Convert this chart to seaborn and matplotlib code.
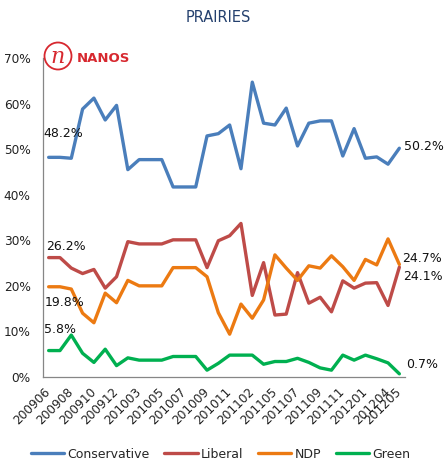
import matplotlib
matplotlib.use("Agg")
import matplotlib.pyplot as plt
from matplotlib.patches import Ellipse
from matplotlib.lines import Line2D
import seaborn as sns
import pandas as pd
import numpy as np

dates = ['200906','200907','200908','200909','200910','200911','200912','201001',
         '201003','201004','201005','201006','201007','201008','201009','201010',
         '201011','201012','201102','201103','201105','201106','201107','201108',
         '201109','201110','201111','201112','201201','201203','201204','201205']
conservative = [48.2,48.2,48.0,58.8,61.2,56.4,59.6,45.5,47.7,47.7,47.7,41.7,41.7,41.7,52.9,53.4,
                55.3,45.7,64.7,55.7,55.3,59.0,50.7,55.7,56.2,56.2,48.5,54.5,48.0,48.3,46.7,50.2]
liberal = [26.2,26.2,23.9,22.7,23.6,19.5,22.0,29.7,29.2,29.2,29.2,30.1,30.1,30.1,24.0,29.9,
           31.0,33.7,17.9,25.1,13.6,13.8,22.9,16.2,17.5,14.3,21.1,19.5,20.6,20.7,15.7,24.1]
ndp = [19.8,19.8,19.3,14.0,11.9,18.4,16.3,21.2,20.0,20.0,20.0,24.0,24.0,24.0,22.0,14.1,
       9.4,16.0,12.9,16.9,26.8,23.9,21.2,24.4,23.9,26.6,24.2,21.2,25.8,24.6,30.3,24.7]
green = [5.8,5.8,9.2,5.2,3.2,6.1,2.5,4.2,3.7,3.7,3.7,4.5,4.5,4.5,1.5,3.0,
         4.8,4.8,4.8,2.8,3.4,3.4,4.1,3.2,2.0,1.5,4.8,3.7,4.8,4.0,3.1,0.7]
parties = ['Conservative', 'Liberal', 'NDP', 'Green']
shown_labels = ['200906','200908','200910','200912','201003','201005','201007','201009',
                '201011','201102','201105','201107','201109','201111','201201','201204','201205']

colors = {'Conservative': '#4A7EBB', 'Liberal': '#BE4B48', 'NDP': '#EC7A12', 'Green': '#00B050'}

sns.set_style("white")
plt.rcParams['font.family'] = ['DejaVu Sans']

series = dict(zip(parties, [conservative, liberal, ndp, green]))
idx = np.arange(len(dates))
df = pd.concat([pd.DataFrame({'idx': idx, 'date': dates, 'value': v, 'party': p})
                for p, v in series.items()], ignore_index=True)

fig = plt.figure(figsize=(4.48, 4.62), dpi=100)
ax = fig.add_axes([43/448, 1-377/462, (405-43)/448, (377-58)/462])

sns.lineplot(data=df, x='idx', y='value', hue='party', palette=colors,
             hue_order=parties, linewidth=2.4, ax=ax, legend=False)

ax.set_xlim(-0.5, len(dates) - 0.5)
ax.set_ylim(0, 70)
ax.set_yticks(range(0, 71, 10))
ax.set_yticklabels([f"{v}%" for v in range(0, 71, 10)], fontsize=8.7, color='#222222')
ax.tick_params(axis='y', length=4, width=0.8, color='#868686', pad=5)

pos = [dates.index(d) for d in shown_labels]
ax.set_xticks(pos)
ax.set_xticklabels(shown_labels, rotation=45, ha='right', va='center',
                   rotation_mode='anchor', fontsize=8.7, color='#222222')
ax.tick_params(axis='x', which='major', length=0, pad=9)
ax.set_xticks(np.arange(-0.5, len(dates), 1.0), minor=True)
ax.tick_params(axis='x', which='minor', length=4, width=0.8, color='#868686')
ax.set_xlabel('')
ax.set_ylabel('')
for s in ['top', 'right']:
    ax.spines[s].set_visible(False)
for s in ['left', 'bottom']:
    ax.spines[s].set_color('#868686')
    ax.spines[s].set_linewidth(0.9)

# end labels
first = [(conservative, -4, 17), (liberal, -1.5, 8), (ndp, -3, -11.5), (green, -3, 15.5)]
for vals, dx, dy in first:
    ax.annotate(f"{vals[0]:.1f}%", (0, vals[0]), xytext=(dx, dy), textcoords='offset points',
                ha='left', va='center', fontsize=9, color='#111111')
last = [(conservative, 3, 1), (ndp, 1.7, 4), (liberal, 3, -7), (green, 5, 7)]
n = len(dates) - 1
for vals, dx, dy in last:
    ax.annotate(f"{vals[-1]:.1f}%", (n, vals[-1]), xytext=(dx, dy), textcoords='offset points',
                ha='left', va='center', fontsize=9, color='#111111', annotation_clip=False)

fig.text(218/448, 1-17/462, "PRAIRIES", ha='center', va='center', fontsize=10.5,
         color='#24406E', fontweight='normal')

# logo
fig.add_artist(Ellipse((58/448, 1-56/462), 27/448, 27/462, transform=fig.transFigure,
                       fill=False, ec='#D7282F', lw=1.3))
fig.text(58/448, 1-57/462, "n", ha='center', va='center', fontsize=16,
         color='#D7282F', family='DejaVu Serif', style='italic')
fig.text(77/448, 1-58/462, "NANOS", ha='left', va='center', fontsize=9.5,
         color='#D7282F', fontweight='bold')

handles = [Line2D([0], [0], color=colors[p], lw=2.4) for p in parties]
fig.legend(handles, parties, loc='center', bbox_to_anchor=(220.5/448, 1-454/462), ncol=4,
           frameon=False, fontsize=9, handlelength=2.65, handletextpad=0.25,
           columnspacing=1.2, borderaxespad=0, borderpad=0)

fig.savefig("out.png", dpi=100)
